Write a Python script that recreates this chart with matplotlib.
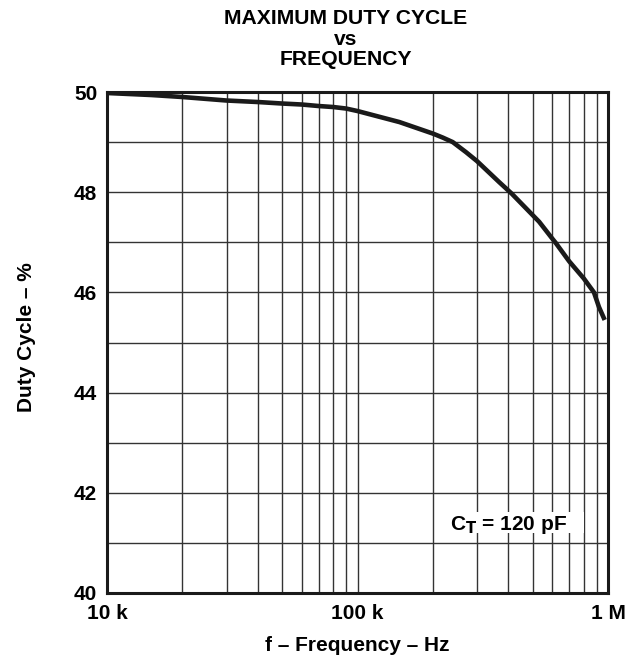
import matplotlib
matplotlib.use("Agg")
import matplotlib.pyplot as plt
from matplotlib.patches import Rectangle

plt.rcParams['font.family'] = ['Liberation Sans', 'DejaVu Sans']
plt.rcParams['font.weight'] = 'bold'

# Data
freq_hz = [10e3, 15e3, 20e3, 30e3, 40e3, 50e3, 60e3, 70e3, 80e3, 90e3, 100e3,
           147e3, 200e3, 219e3, 240e3, 271e3, 300e3, 368e3, 413e3, 531e3,
           600e3, 618e3, 700e3, 800e3, 879e3, 920e3, 970e3]
duty_pct = [49.98, 49.94, 49.9, 49.83, 49.8, 49.77, 49.75, 49.72, 49.7, 49.67, 49.62,
            49.4, 49.17, 49.09, 49.0, 48.8, 48.62, 48.2, 47.97, 47.41,
            47.07, 46.99, 46.62, 46.28, 46.0, 45.71, 45.45]
x_ticks = [10e3, 100e3, 1e6]
x_tick_labels = ['10 k', '100 k', '1 M']
y_ticks = [40, 42, 44, 46, 48, 50]

fig = plt.figure(figsize=(6.34, 6.6), dpi=100)
ax = fig.add_axes([107/634, 1-593/660, (608-107)/634, (593-92)/660])

ax.plot(freq_hz, duty_pct, color='#1a1a1a', lw=3.3, solid_joinstyle='round',
        solid_capstyle='butt', zorder=3)

ax.set_xscale('log')
ax.set_xlim(10e3, 1e6)
ax.set_ylim(40, 50)
ax.set_xticks(x_ticks)
ax.set_xticklabels(x_tick_labels)
ax.set_xticks([m * d for d in (10e3, 100e3) for m in range(2, 10)], minor=True)
ax.xaxis.set_minor_formatter(matplotlib.ticker.NullFormatter())
ax.set_yticks(y_ticks)
ax.set_yticks(range(40, 51), minor=True)

ax.grid(True, which='both', axis='both', color='#333333', lw=1.0)
ax.set_axisbelow(True)
ax.tick_params(which='both', length=0, labelsize=15)
ax.tick_params(axis='x', pad=8)
ax.tick_params(axis='y', pad=7)
for s in ax.spines.values():
    s.set_linewidth(2.2)
    s.set_color('#1a1a1a')

ax.set_xlabel('f – Frequency – Hz', fontsize=15, fontweight='bold', labelpad=9)
ax.set_ylabel('Duty Cycle – %', fontsize=15, fontweight='bold')
ax.yaxis.set_label_coords((36 - 107) / 501, (593 - 337.5) / 501)

fig.text(346/634, 1-24/660, 'MAXIMUM DUTY CYCLE', ha='center', va='baseline',
         fontsize=15.2, fontweight='bold')
fig.text(346/634, 1-45/660, 'vs', ha='center', va='baseline', fontsize=15.2, fontweight='bold')
fig.text(346/634, 1-65/660, 'FREQUENCY', ha='center', va='baseline', fontsize=15.2, fontweight='bold')

# white label box
ax.add_patch(Rectangle((0.673, 0.12), 0.279, 0.042, transform=ax.transAxes,
                       facecolor='white', edgecolor='none', zorder=2.5))
ax.text(233e3, 41.25, r'C$_\mathbf{T}$ = 120 pF', fontsize=15, fontweight='bold',
        ha='left', va='baseline', zorder=4)

fig.savefig('out.png', dpi=100)
